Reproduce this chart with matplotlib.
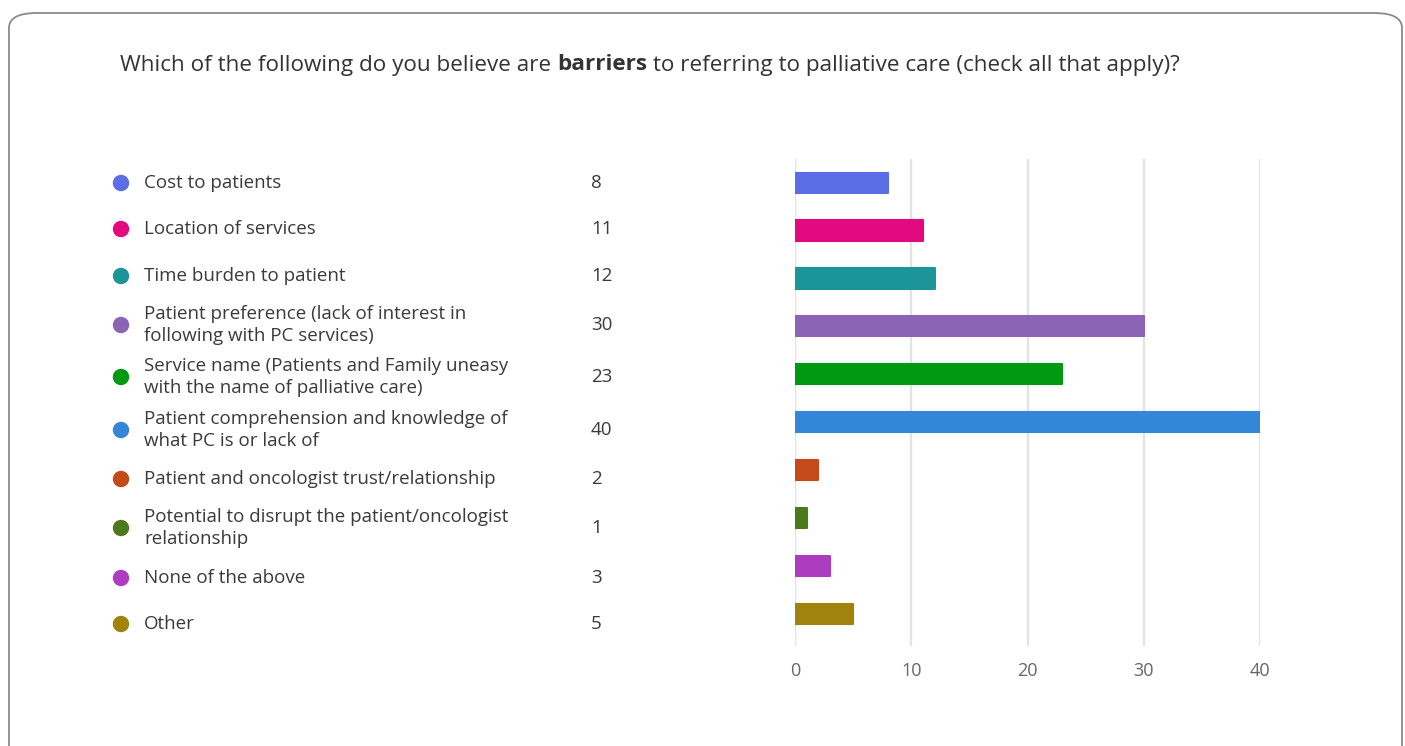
import matplotlib
matplotlib.use('Agg')
import matplotlib.pyplot as plt
from matplotlib.patches import FancyBboxPatch, Ellipse
import numpy as np

plt.rcParams['font.family'] = ['Open Sans', 'DejaVu Sans']

labels = [
    'Cost to patients',
    'Location of services',
    'Time burden to patient',
    'Patient preference (lack of interest in\nfollowing with PC services)',
    'Service name (Patients and Family uneasy\nwith the name of palliative care)',
    'Patient comprehension and knowledge of\nwhat PC is or lack of',
    'Patient and oncologist trust/relationship',
    'Potential to disrupt the patient/oncologist\nrelationship',
    'None of the above',
    'Other',
]
counts = [8, 11, 12, 30, 23, 40, 2, 1, 3, 5]
colors = ['#5b6ee8', '#e3097f', '#1b9598', '#8c64b5', '#00990f',
          '#3487d8', '#c44a1c', '#4a7a1c', '#ad3dbf', '#a0820c']
xticks = [0, 10, 20, 30, 40]

W, H = 1405, 746
# legend row centres (pixels from top), the list is not aligned to the bars
row_px = [183, 229, 276, 325, 377, 430, 479, 528, 578, 624]

fig = plt.figure(figsize=(W / 100, H / 100), dpi=100)
fig.patch.set_facecolor('white')

# card border
card = FancyBboxPatch((9 / W, 1 - 800 / H), (1402 - 9) / W, (800 - 13) / H,
                      boxstyle='round,pad=0,rounding_size=0.02',
                      transform=fig.transFigure, facecolor='none',
                      edgecolor='#8a8a8a', linewidth=1.3, clip_on=False,
                      zorder=-1)
fig.patches.append(card)

ax = fig.add_axes([795 / W, 1 - 645.7 / H, (1260 - 795) / W, (645.7 - 158.6) / H])
ax.set_facecolor('none')
ypos = np.arange(len(counts))
ax.barh(ypos, counts, height=0.42, color=colors, edgecolor=colors,
        linewidth=1.5, joinstyle='round', zorder=3)
ax.set_xlim(0, 40)
ax.set_ylim(9.66, -0.5)
ax.set_xticks(xticks)
ax.set_yticks([])
ax.grid(axis='x', color='#e3e3e3', linewidth=1.6, zorder=0)
ax.axvline(0, color='#e3e3e3', linewidth=1.6, zorder=0)
for s in ax.spines.values():
    s.set_visible(False)
ax.tick_params(axis='x', length=0, pad=12, labelsize=13, labelcolor='#666666')

# legend rows on the left
for py, lab, n, c in zip(row_px, labels, counts, colors):
    fy = 1 - py / H
    fig.patches.append(Ellipse((121 / W, fy), 15 / W, 15 / H,
                               transform=fig.transFigure, color=c))
    fig.text(144 / W, fy, lab, ha='left', va='center', fontsize=13.5,
             color='#3a3a3a', linespacing=1.35)
    fig.text(591 / W, fy, str(n), ha='left', va='center', fontsize=13.5,
             color='#3a3a3a')

# title with a bold word
r = fig.canvas.get_renderer()
parts = [('Which of the following do you believe are ', 'normal'),
         ('barriers', 'bold'),
         (' to referring to palliative care (check all that apply)?', 'normal')]
x = 120 / W
ty = 1 - 65 / H
for txt, wt in parts:
    t = fig.text(x, ty, txt, ha='left', va='center', fontsize=16.2,
                 fontweight=wt, color='#333333')
    bb = t.get_window_extent(renderer=r)
    x = (bb.x1) / W

fig.savefig('out.png', dpi=100, facecolor='white')
